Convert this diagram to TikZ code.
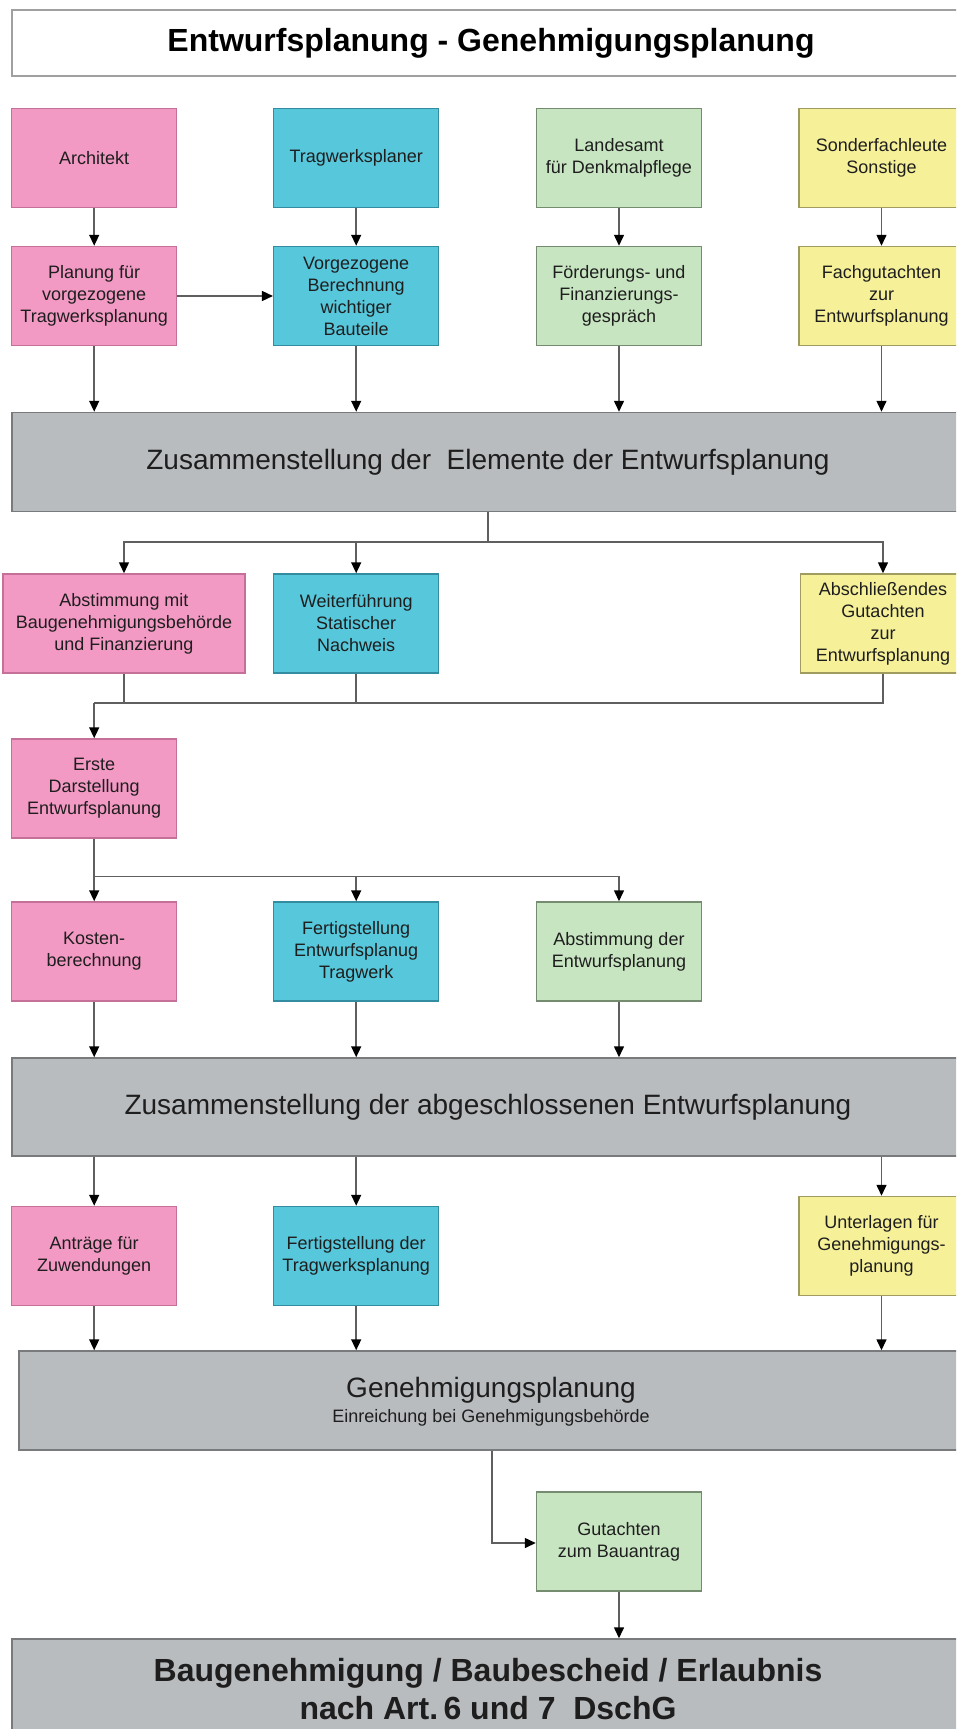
\documentclass[tikz,border=0pt]{standalone}
\usepackage{fontspec}
\setmainfont{Liberation Sans}
\usetikzlibrary{arrows.meta}
\definecolor{pinkF}{RGB}{243,154,196}
\definecolor{pinkD}{RGB}{196,112,152}
\definecolor{cyanF}{RGB}{87,199,219}
\definecolor{cyanD}{RGB}{52,140,160}
\definecolor{greenF}{RGB}{200,229,193}
\definecolor{greenD}{RGB}{118,140,112}
\definecolor{yellowF}{RGB}{246,241,153}
\definecolor{yellowD}{RGB}{160,155,95}
\definecolor{barF}{RGB}{185,188,190}
\definecolor{barD}{RGB}{120,122,124}
\definecolor{lineC}{RGB}{95,95,95}
\definecolor{txt}{RGB}{30,30,30}
\begin{document}
\begin{tikzpicture}[x=1pt,y=-1pt,
  every node/.style={inner sep=0pt, text=txt},
  box/.style={draw, line width=1.5pt, minimum width=165pt, minimum height=99pt, align=center, font=\fontsize{18}{22}\selectfont},
  pinkbox/.style={box, fill=pinkF, draw=pinkD},
  cyanbox/.style={box, fill=cyanF, draw=cyanD},
  greenbox/.style={box, fill=greenF, draw=greenD},
  yellowbox/.style={box, fill=yellowF, draw=yellowD},
  bar/.style={draw=barD, fill=barF, line width=1.5pt, minimum width=952pt, minimum height=99pt, font=\fontsize{28}{32}\selectfont},
  conn/.style={draw=lineC, line width=1.5pt},
  arr/.style={conn, -{Triangle[length=11pt,width=10pt,color=black]}}]
\useasboundingbox (0,0) rectangle (956,1729);
\fill[white] (0,0) rectangle (956,1729);
\clip (0,0) rectangle (956,1729);

% title
\node[draw={rgb,255:red,160;green,160;blue,160}, fill=white, line width=2.5pt, minimum width=958pt, minimum height=66pt] (title) at (491,43) {};
\node[font=\fontsize{32}{36}\selectfont\bfseries, text=black] (titletext) at (491,43) {Entwurfsplanung - Genehmigungsplanung};

% row 1
\node[pinkbox]   (arch) at (94.2,158) {Architekt};
\node[cyanbox]   (trag) at (356.2,158) {Tragwerksplaner};
\node[greenbox]  (land) at (619,158) {Landesamt\\für Denkmalpflege};
\node[yellowbox] (sond) at (881.5,158) {Sonderfachleute\\Sonstige};

% row 2
\node[pinkbox]   (plan) at (94.2,296) {Planung für\\vorgezogene\\Tragwerksplanung};
\node[cyanbox]   (vorg) at (356.2,296) {Vorgezogene\\Berechnung\\wichtiger\\Bauteile};
\node[greenbox]  (foer) at (619,296) {Förderungs- und\\Finanzierungs-\\gespräch};
\node[yellowbox] (fach) at (881.5,296) {Fachgutachten\\zur\\Entwurfsplanung};

% bar 1
\node[bar] (bar1) at (488,462) {Zusammenstellung der \ Elemente der Entwurfsplanung};

% row 3
\node[pinkbox, minimum width=242pt] (abst) at (124,623.5) {Abstimmung mit\\Baugenehmigungsbehörde\\und Finanzierung};
\node[cyanbox]   (weit) at (356.2,623.5) {Weiterführung\\Statischer\\Nachweis};
\node[yellowbox] (absch) at (883,623.5) {Abschließendes\\Gutachten\\zur\\Entwurfsplanung};

% row 4
\node[pinkbox] (erste) at (94.2,788.5) {Erste\\Darstellung\\Entwurfsplanung};

% row 5
\node[pinkbox]  (kost) at (94.2,951.5) {Kosten-\\berechnung};
\node[cyanbox]  (fert) at (356.2,951.5) {Fertigstellung\\Entwurfsplanug\\Tragwerk};
\node[greenbox] (abstd) at (619,951.5) {Abstimmung der\\Entwurfsplanung};

% bar 2
\node[bar, minimum height=98pt] (bar2) at (488,1107) {Zusammenstellung der abgeschlossenen Entwurfsplanung};

% row 6
\node[pinkbox]   (antr) at (94.2,1256) {Anträge für\\Zuwendungen};
\node[cyanbox]   (fertt) at (356.2,1256) {Fertigstellung der\\Tragwerksplanung};
\node[yellowbox] (unter) at (881.5,1246) {Unterlagen für\\Genehmigungs-\\planung};

% bar 3
\node[bar, minimum width=944pt] (bar3) at (491,1400.5) {};
\node[font=\fontsize{28}{32}\selectfont] (bar3a) at (491,1390) {Genehmigungsplanung};
\node[font=\fontsize{18}{22}\selectfont] (bar3b) at (491,1418) {Einreichung bei Genehmigungsbehörde};

% Gutachten
\node[greenbox] (gut) at (619,1541.5) {Gutachten\\zum Bauantrag};

% bar 4
\node[bar, minimum height=100pt, font=\fontsize{32}{38}\selectfont\bfseries, align=center] (bar4) at (488,1689) {Baugenehmigung / Baubescheid / Erlaubnis\\nach Art.\,6 und 7 \ DschG};

% connectors
\draw[arr] (arch) -- (plan);
\draw[arr] (trag) -- (vorg);
\draw[arr] (land) -- (foer);
\draw[arr] (sond) -- (fach);
\draw[arr] (plan) -- (vorg);

\draw[arr] (plan.south) -- (plan.south |- bar1.north);
\draw[arr] (vorg.south) -- (vorg.south |- bar1.north);
\draw[arr] (foer.south) -- (foer.south |- bar1.north);
\draw[arr] (fach.south) -- (fach.south |- bar1.north);

\coordinate (br1) at (488,542);
\draw[conn] (bar1.south -| br1) -- (br1);
\draw[arr] (br1) -| (abst.north);
\draw[arr] (br1) -| (weit.north);
\draw[arr] (br1) -| (absch.north);

\coordinate (j1) at (94.2,703);
\draw[conn] (abst.south) |- (j1);
\draw[conn] (weit.south) |- (j1);
\draw[conn] (absch.south) |- (j1);
\draw[arr] (j1) -- (erste.north);

\coordinate (br2) at (94.2,876.6);
\draw[conn] (erste.south) -- (br2);
\draw[arr] (br2) -- (kost.north);
\draw[arr] (br2) -| (fert.north);
\draw[arr] (br2) -| (abstd.north);

\draw[arr] (kost.south) -- (kost.south |- bar2.north);
\draw[arr] (fert.south) -- (fert.south |- bar2.north);
\draw[arr] (abstd.south) -- (abstd.south |- bar2.north);

\draw[arr] (bar2.south -| antr) -- (antr.north);
\draw[arr] (bar2.south -| fertt) -- (fertt.north);
\draw[arr] (bar2.south -| unter) -- (unter.north);

\draw[arr] (antr.south) -- (antr.south |- bar3.north);
\draw[arr] (fertt.south) -- (fertt.south |- bar3.north);
\draw[arr] (unter.south) -- (unter.south |- bar3.north);

\coordinate (g1) at (492,1543);
\draw[arr] (bar3.south -| g1) -- (g1) -- (g1 -| gut.west);
\draw[arr] (gut.south) -- (gut.south |- bar4.north);
\end{tikzpicture}
\end{document}
